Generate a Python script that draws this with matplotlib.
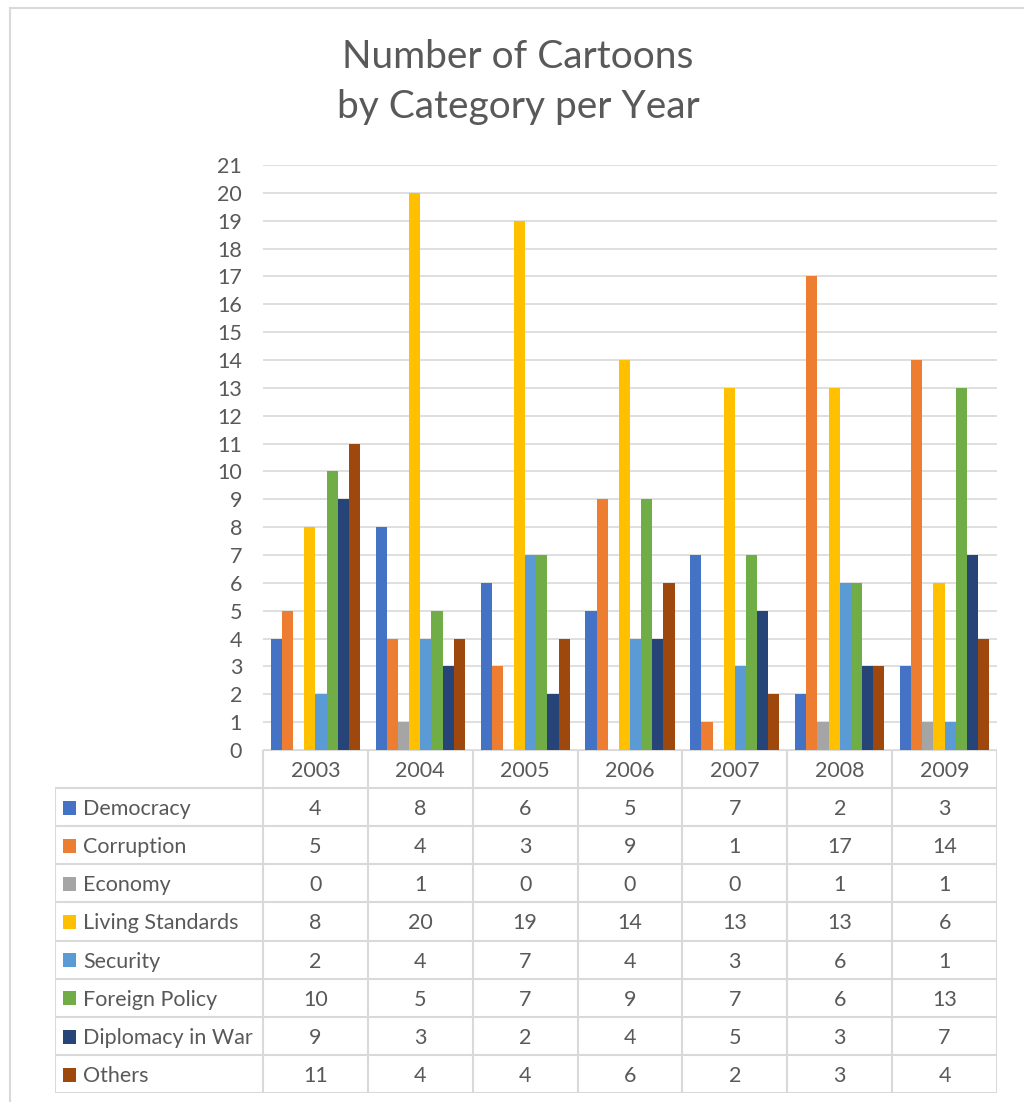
import matplotlib.pyplot as plt
import numpy as np

years = ["2003", "2004", "2005", "2006", "2007", "2008", "2009"]
categories = ["Democracy", "Corruption", "Economy", "Living Standards",
              "Security", "Foreign Policy", "Diplomacy in War", "Others"]
democracy = [4, 8, 6, 5, 7, 2, 3]
corruption = [5, 4, 3, 9, 1, 17, 14]
economy = [0, 1, 0, 0, 0, 1, 1]
living_standards = [8, 20, 19, 14, 13, 13, 6]
security = [2, 4, 7, 4, 3, 6, 1]
foreign_policy = [10, 5, 7, 9, 7, 6, 13]
diplomacy_war = [9, 3, 2, 4, 5, 3, 7]
others = [11, 4, 4, 6, 2, 3, 4]
series = [democracy, corruption, economy, living_standards,
          security, foreign_policy, diplomacy_war, others]

colors = ["#4472C4", "#ED7D31", "#A5A5A5", "#FFC000",
          "#5B9BD5", "#70AD47", "#264478", "#9E480E"]
TXT = "#595959"
GRID = "#D9D9D9"
FONT = "Lato"
FS = 15.5

W, H = 1024, 1102
fig = plt.figure(figsize=(W / 100, H / 100), dpi=100)
fig.patch.set_facecolor("white")


def frac(x0, y0, x1, y1):
    # pixel box (top-left origin) -> figure fraction rect
    return [x0 / W, 1 - y1 / H, (x1 - x0) / W, (y1 - y0) / H]


# chart border
fig.add_artist(plt.Line2D([9.5 / W, 9.5 / W], [0, 1 - 7.5 / H],
                          color=GRID, lw=1.5, transform=fig.transFigure))
fig.add_artist(plt.Line2D([9.5 / W, 1], [1 - 7.5 / H, 1 - 7.5 / H],
                          color=GRID, lw=1.5, transform=fig.transFigure))

fig.text(518 / W, 1 - 82 / H, "Number of Cartoons\nby Category per Year",
         ha="center", va="center", fontsize=28, color=TXT, family=FONT,
         linespacing=1.45)

# bars
ax = fig.add_axes(frac(263, 165, 997, 750))
n = len(series)
x = np.arange(len(years))
group = 0.85
bw = group / n
for i, (vals, c) in enumerate(zip(series, colors)):
    ax.bar(x - group / 2 + bw * (i + 0.5), vals, width=bw, color=c,
           zorder=3, linewidth=0)
ax.set_xlim(-0.5, len(years) - 0.5)
ax.set_ylim(0, 21)
ax.set_yticks(range(0, 22))
ax.yaxis.grid(True, color=GRID, lw=1.2, zorder=0)
ax.tick_params(axis="y", length=0, pad=15, labelsize=FS, labelcolor=TXT)
for t in ax.get_yticklabels():
    t.set_family(FONT)
ax.set_xticks([])
for s in ax.spines.values():
    s.set_visible(False)

# data table
L = (263 - 55) / ((997 - 263) / len(years))
rows = len(categories) + 1
tab = fig.add_axes(frac(55, 750, 997, 1093))
tab.set_xlim(-0.5 - L, len(years) - 0.5)
tab.set_ylim(rows, 0)
tab.axis("off")
lw = 1.5
for k in range(len(years) + 1):
    tab.plot([k - 0.5, k - 0.5], [0, rows], color=GRID, lw=lw,
             solid_capstyle="projecting")
tab.plot([-0.5 - L, -0.5 - L], [1, rows], color=GRID, lw=lw,
         solid_capstyle="projecting")
tab.plot([-0.5, len(years) - 0.5], [0, 0], color=GRID, lw=lw)
for r in range(1, rows + 1):
    tab.plot([-0.5 - L, len(years) - 0.5], [r, r], color=GRID, lw=lw,
             solid_capstyle="projecting")

for j, yr in enumerate(years):
    tab.text(j, 0.55, yr, ha="center", va="center", fontsize=FS,
             color=TXT, family=FONT)
px = L / 208  # data units per pixel in the legend column
rh = rows / (1093 - 750)  # data units per pixel vertically
for i, (cat, vals, c) in enumerate(zip(categories, series, colors)):
    r = i + 1.52
    tab.add_patch(plt.Rectangle((-0.5 - L + 8 * px, r - 7 * rh), 13 * px,
                                14 * rh, color=c, lw=0))
    tab.text(-0.5 - L + 28 * px, r + 0.03, cat, ha="left", va="center",
             fontsize=FS, color=TXT, family=FONT)
    for j, v in enumerate(vals):
        tab.text(j, r + 0.03, str(v), ha="center", va="center", fontsize=FS,
                 color=TXT, family=FONT)

fig.savefig("out.png", dpi=100, facecolor="white")
